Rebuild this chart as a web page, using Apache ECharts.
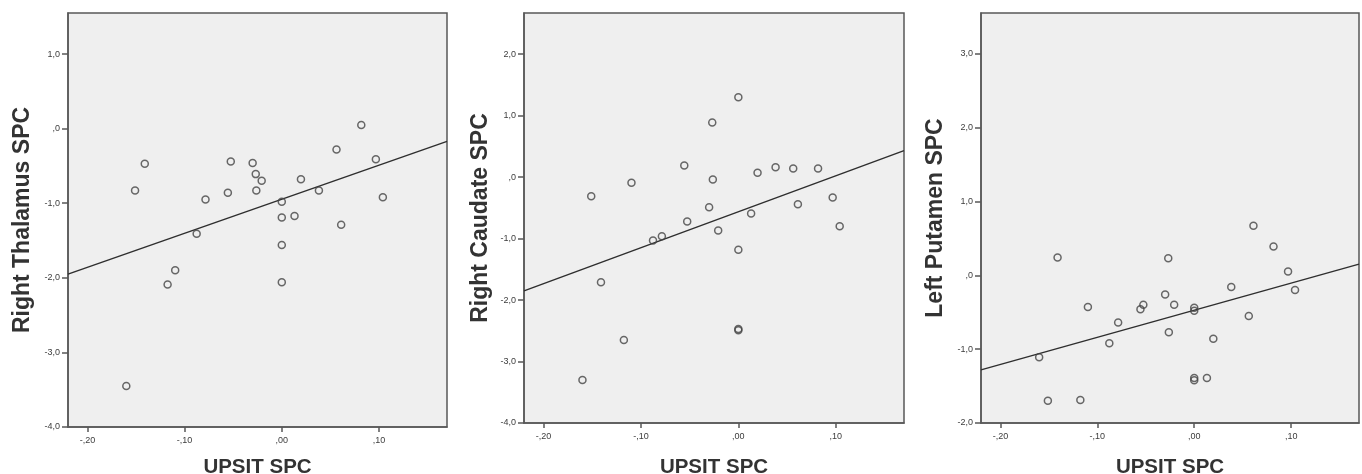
<!DOCTYPE html>
<html>
<head>
<meta charset="utf-8">
<script src="https://cdn.jsdelivr.net/npm/echarts@6/dist/echarts.min.js"></script>
<style>
  html, body { margin: 0; padding: 0; background: #ffffff; }
  #chart { width: 1362px; height: 474px; }
</style>
</head>
<body>
<div id="chart"></div>
<script>
// UPSIT SPC, shared by all three panels (25 subjects)
var upsit = [-0.160, -0.151, -0.141, -0.1175, -0.1097, -0.0876, -0.0785, -0.0555, -0.0525,
  -0.030, -0.0268, -0.0262, -0.0207, 0.000, 0.000, 0.000, 0.000,
  0.0131, 0.0197, 0.0382, 0.0563, 0.0611, 0.0818, 0.0968, 0.104];

var thalamus = [-3.45, -0.83, -0.47, -2.09, -1.90, -1.41, -0.95, -0.86, -0.44,
  -0.46, -0.61, -0.83, -0.70, -0.98, -1.19, -1.56, -2.06,
  -1.17, -0.68, -0.83, -0.28, -1.29, 0.05, -0.41, -0.92];

var caudate = [-3.30, -0.31, -1.71, -2.65, -0.09, -1.03, -0.96, 0.19, -0.72,
  -0.49, 0.89, -0.04, -0.87, 1.30, -1.18, -2.47, -2.49,
  -0.59, 0.07, 0.16, 0.14, -0.44, 0.14, -0.33, -0.80];

var putamen = [-1.11, -1.70, 0.24, -1.69, -0.43, -0.92, -0.64, -0.46, -0.40,
  -0.26, 0.23, -0.77, -0.40, -0.44, -0.48, -1.39, -1.42,
  -1.39, -0.86, -0.16, -0.55, 0.67, 0.39, 0.05, -0.20];

// fit lines, read at the plot edges
var fitX = [-0.22, 0.17];
var thalamusFit = [-1.95, -0.17];
var caudateFit = [-1.85, 0.43];
var putamenFit = [-1.28, 0.15];

var xTicks = [-0.2, -0.1, 0, 0.1];
var xTickLabels = ['-,20', '-,10', ',00', ',10'];
var yTicks1 = [-4, -3, -2, -1, 0, 1];
var yTickLabels1 = ['-4,0', '-3,0', '-2,0', '-1,0', ',0', '1,0'];
var yTicks2 = [-4, -3, -2, -1, 0, 1, 2];
var yTickLabels2 = ['-4,0', '-3,0', '-2,0', '-1,0', ',0', '1,0', '2,0'];
var yTicks3 = [-2, -1, 0, 1, 2, 3];
var yTickLabels3 = ['-2,0', '-1,0', ',0', '1,0', '2,0', '3,0'];

var chart = echarts.init(document.getElementById('chart'));
var font = '"Liberation Sans", Arial, sans-serif';
var edge = '#585858';

function pairs(xs, ys) {
  return xs.map(function (x, i) { return [x, ys[i]]; });
}

function lookup(vals, labels) {
  return function (v) {
    for (var i = 0; i < vals.length; i++) {
      if (Math.abs(vals[i] - v) < 1e-9) return labels[i];
    }
    return '';
  };
}

function xAxis(idx, gap) {
  return {
    type: 'value', gridIndex: idx, min: -0.22, max: 0.17,
    name: 'UPSIT SPC', nameLocation: 'middle', nameGap: gap,
    nameTextStyle: { fontFamily: font, fontSize: 20.5, fontWeight: 'bold', color: '#333' },
    axisLine: { show: true, onZero: false, lineStyle: { color: edge, width: 1.5 } },
    axisTick: { show: true, length: 5, customValues: xTicks, lineStyle: { color: edge, width: 1.5 } },
    axisLabel: { customValues: xTicks, formatter: lookup(xTicks, xTickLabels), margin: 9,
      fontFamily: font, fontSize: 9, color: '#3c3c3c' },
    splitLine: { show: false }
  };
}

function yAxis(idx, min, max, ticks, labels, title, gap) {
  return {
    type: 'value', gridIndex: idx, min: min, max: max,
    name: title, nameLocation: 'middle', nameGap: gap,
    nameTextStyle: { fontFamily: font, fontSize: 23, fontWeight: 'bold', color: '#333' },
    axisLine: { show: true, onZero: false, lineStyle: { color: edge, width: 1.5 } },
    axisTick: { show: true, length: 6, customValues: ticks, lineStyle: { color: edge, width: 1.5 } },
    axisLabel: { customValues: ticks, formatter: lookup(ticks, labels), margin: 8,
      fontFamily: font, fontSize: 9, color: '#3c3c3c' },
    splitLine: { show: false }
  };
}

function scatter(idx, ys) {
  return {
    type: 'scatter', xAxisIndex: idx, yAxisIndex: idx,
    data: pairs(upsit, ys), symbol: 'circle', symbolSize: 7,
    itemStyle: { color: 'rgba(0,0,0,0)', borderColor: '#444', borderWidth: 1.5 },
    z: 3
  };
}

function fit(idx, ys) {
  return {
    type: 'line', xAxisIndex: idx, yAxisIndex: idx,
    data: pairs(fitX, ys), symbol: 'none', silent: true,
    lineStyle: { color: '#2e2e2e', width: 1.4 }, z: 2
  };
}

var gridStyle = { show: true, outerBoundsMode: 'none', backgroundColor: '#efefef',
  borderColor: edge, borderWidth: 1.5 };

chart.setOption({
  animation: false,
  backgroundColor: '#ffffff',
  grid: [
    Object.assign({ left: 68, top: 13, width: 379, height: 414 }, gridStyle),
    Object.assign({ left: 524, top: 13, width: 380, height: 410 }, gridStyle),
    Object.assign({ left: 981, top: 13, width: 378, height: 410 }, gridStyle)
  ],
  xAxis: [xAxis(0, 30), xAxis(1, 34), xAxis(2, 34)],
  yAxis: [
    yAxis(0, -4, 1.55, yTicks1, yTickLabels1, 'Right Thalamus SPC', 34),
    yAxis(1, -4, 2.67, yTicks2, yTickLabels2, 'Right Caudate SPC', 32),
    yAxis(2, -2, 3.55, yTicks3, yTickLabels3, 'Left Putamen SPC', 34)
  ],
  series: [
    fit(0, thalamusFit), scatter(0, thalamus),
    fit(1, caudateFit), scatter(1, caudate),
    fit(2, putamenFit), scatter(2, putamen)
  ]
});
</script>
</body>
</html>
